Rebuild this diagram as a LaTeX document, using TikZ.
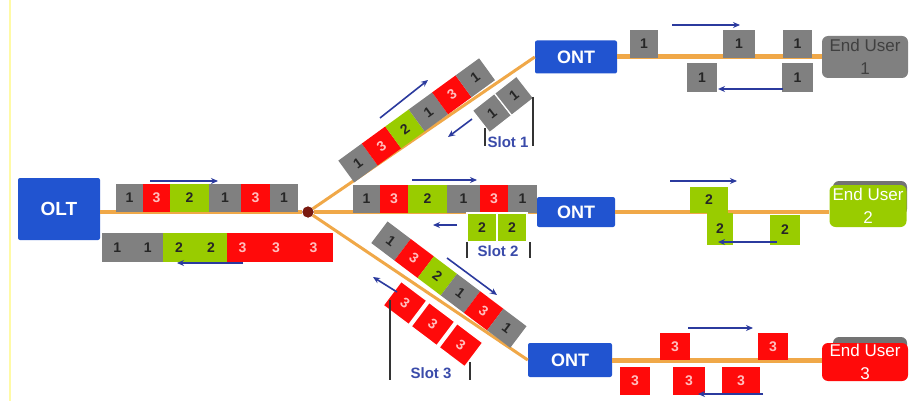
\documentclass[tikz,border=0pt]{standalone}
\usepackage{fontspec}
\setmainfont{Liberation Sans}
\usetikzlibrary{arrows.meta}
\definecolor{cgray}{HTML}{808080}
\definecolor{cred}{HTML}{FF0A0A}
\definecolor{cgreen}{HTML}{99CC00}
\definecolor{cblue}{HTML}{2154D0}
\definecolor{fiber}{HTML}{F0A848}
\definecolor{arrowblue}{HTML}{2B3A9E}
\definecolor{slotblue}{HTML}{3A4BAA}
\definecolor{splitc}{HTML}{7A1A10}
\begin{document}
\begin{tikzpicture}[x=1pt,y=-1pt,
 cellbase/.style={inner sep=0pt, minimum height=28, font=\fontsize{14}{16}\selectfont\bfseries},
 cg/.style={cellbase, fill=cgray, text=black!85},
 cr/.style={cellbase, fill=cred, text=red!25!white},
 cgr/.style={cellbase, fill=cgreen, text=black!85},
 slotcell/.style={draw=white, line width=1.2},
 box/.style={fill=cblue, text=white, font=\fontsize{18}{20}\selectfont\bfseries, rounded corners=2pt, inner sep=0},
 user/.style={rounded corners=6pt, inner sep=0, align=center, font=\fontsize{17}{23}\selectfont},
 shadowbox/.style={fill=black!55, rounded corners=6pt},
 fib/.style={draw=fiber, line width=4},
 dirarrow/.style={draw=arrowblue, line width=1.6, -{Stealth[length=7,width=6]}},
 slotlbl/.style={text=slotblue, font=\fontsize{15}{16}\selectfont\bfseries, inner sep=0},
 bracket/.style={draw=black!80, line width=1.2}
]
\useasboundingbox (0,0) rectangle (910,401);
\fill[white] (0,0) rectangle (910,401);
\draw[yellow!35, line width=1.5] (10,0) -- (10,401);

% main boxes
\node[box, minimum width=82, minimum height=62, font=\fontsize{19}{20}\selectfont\bfseries] (olt) at (59,209) {OLT};
\node[box, minimum width=82, minimum height=33] (ont1) at (576,57) {ONT};
\node[box, minimum width=78, minimum height=30] (ont2) at (576,212) {ONT};
\node[box, minimum width=84, minimum height=34] (ont3) at (570,360) {ONT};

% end users
\fill[shadowbox] (833,181) rectangle (907,215);
\fill[shadowbox] (833,337) rectangle (907,370);
\node[user, fill=cgray, text=black!75, minimum width=86, minimum height=42] (eu1) at (865,57) {End User\\1};
\node[user, fill=cgreen, text=white, minimum width=77, minimum height=42] (eu2) at (868,206) {End User\\2};
\node[user, fill=cred, text=white, minimum width=86, minimum height=38] (eu3) at (865,362) {End User\\3};

% splitter
\node[circle, fill=splitc, minimum size=11, inner sep=0] (split) at (308,212) {};

% fibers
\draw[fib] (olt.east |- split) -- (split);
\draw[fib, line width=3] (split) -- (ont1.west);
\draw[fib] (split) -- (split -| ont2.west);
\draw[fib, line width=3] (split) -- (ont3.west);
\draw[fib, line width=5] (ont1.east) -- (ont1.east -| eu1.west);
\draw[fib, line width=4] (ont2.east) -- (ont2.east -| eu2.west);
\draw[fib, line width=5] (ont3.east) -- (ont3.east -| eu3.west);
\node[circle, fill=splitc, minimum size=11, inner sep=0] at (split) {};

% OLT downstream row
\node[cg, minimum width=27] (a1) at (129.5,198) {1};
\node[cr, minimum width=27] (a2) at (156.5,198) {3};
\node[cgr, minimum width=39] (a3) at (189.5,198) {2};
\node[cg, minimum width=32] (a4) at (225,198) {1};
\node[cr, minimum width=29] (a5) at (255.5,198) {3};
\node[cg, minimum width=28] (a6) at (284,198) {1};
\draw[dirarrow] (150,181) -- (218,181);

% OLT upstream row
\node[cg, minimum width=30.5, minimum height=29] (b1) at (117.25,247.5) {1};
\node[cg, minimum width=30.5, minimum height=29] (b2) at (147.75,247.5) {1};
\node[cgr, minimum width=32, minimum height=29] (b3) at (179,247.5) {2};
\node[cgr, minimum width=32, minimum height=29] (b4) at (211,247.5) {2};
\node[cr, minimum width=31, minimum height=29] (b5) at (242.5,247.5) {3};
\node[cr, minimum width=36, minimum height=29] (b6) at (276,247.5) {3};
\node[cr, minimum width=39, minimum height=29] (b7) at (313.5,247.5) {3};
\draw[dirarrow] (243,263) -- (177,263);

% middle downstream row
\node[cg, minimum width=27] (m1) at (366.5,199) {1};
\node[cr, minimum width=28] (m2) at (394,199) {3};
\node[cgr, minimum width=39] (m3) at (427.5,199) {2};
\node[cg, minimum width=33] (m4) at (463.5,199) {1};
\node[cr, minimum width=28] (m5) at (494,199) {3};
\node[cg, minimum width=29] (m6) at (522.5,199) {1};
\draw[dirarrow] (412,180) -- (477,180);

% middle upstream slot 2
\node[cgr, slotcell, minimum width=30, minimum height=29] (s21) at (482,227.5) {2};
\node[cgr, slotcell, minimum width=30, minimum height=29] (s22) at (512,227.5) {2};
\draw[dirarrow] (457,225) -- (433,225);
\draw[bracket] (467,242) -- (467,258);
\draw[bracket] (530,242) -- (530,258);
\node[slotlbl] (sl2) at (498,251) {Slot 2};

% upper diagonal downstream
\begin{scope}[shift={(358,163)}, rotate=36, transform shape]
\node[cg, minimum width=29, minimum height=27] (u1) at (0,0) {1};
\node[cr, minimum width=29, minimum height=27] (u2) at (29,0) {3};
\node[cgr, minimum width=29, minimum height=27] (u3) at (58,0) {2};
\node[cg, minimum width=29, minimum height=27] (u4) at (87,0) {1};
\node[cr, minimum width=29, minimum height=27] (u5) at (116,0) {3};
\node[cg, minimum width=29, minimum height=27] (u6) at (145,0) {1};
\end{scope}
\draw[dirarrow] (380,118) -- (428,80);

% slot 1
\begin{scope}[shift={(492,113)}, rotate=38, transform shape]
\node[cg, slotcell, minimum width=28, minimum height=28] (s11) at (0,0) {1};
\node[cg, slotcell, minimum width=28, minimum height=28] (s12) at (28,0) {1};
\end{scope}
\draw[dirarrow] (472,119) -- (448,137);
\draw[bracket] (485,128) -- (485,146);
\draw[bracket] (533,97) -- (533,146);
\node[slotlbl] (sl1) at (508,142) {Slot 1};

% lower diagonal downstream
\begin{scope}[shift={(391,241)}, rotate=-37, transform shape]
\node[cg, minimum width=29, minimum height=27] (l1) at (0,0) {1};
\node[cr, minimum width=29, minimum height=27] (l2) at (29,0) {3};
\node[cgr, minimum width=29, minimum height=27] (l3) at (58,0) {2};
\node[cg, minimum width=29, minimum height=27] (l4) at (87,0) {1};
\node[cr, minimum width=29, minimum height=27] (l5) at (116,0) {3};
\node[cg, minimum width=29, minimum height=27] (l6) at (145,0) {1};
\end{scope}
\draw[dirarrow] (447,258) -- (497,295);

% slot 3
\begin{scope}[shift={(405,303)}, rotate=-37, transform shape]
\node[cr, slotcell, minimum width=32, minimum height=30] (s31) at (0,0) {3};
\node[cr, slotcell, minimum width=32, minimum height=30] (s32) at (35,0) {3};
\node[cr, slotcell, minimum width=32, minimum height=30] (s33) at (70,0) {3};
\end{scope}
\draw[dirarrow] (397,292) -- (373,277);
\draw[bracket] (390,300) -- (390,380);
\draw[bracket] (470,362) -- (470,380);
\node[slotlbl] (sl3) at (431,373) {Slot 3};

% right upper
\node[cg, minimum width=28] (r11) at (644,44) {1};
\node[cg, minimum width=32] (r12) at (739,44) {1};
\node[cg, minimum width=29] (r13) at (797.5,44) {1};
\node[cg, minimum width=30, minimum height=29] (r14) at (702,77.5) {1};
\node[cg, minimum width=31, minimum height=29] (r15) at (797.5,77.5) {1};
\draw[dirarrow] (672,25) -- (740,25);
\draw[dirarrow] (783,89) -- (718,89);

% right middle
\node[cgr, minimum width=38, minimum height=26] (r21) at (709,200) {2};
\node[cgr, minimum width=26, minimum height=32] (r22) at (720,229) {2};
\node[cgr, minimum width=30, minimum height=30] (r23) at (785,230) {2};
\draw[dirarrow] (670,181) -- (737,181);
\draw[dirarrow] (777,242) -- (718,242);

% right lower
\node[cr, minimum width=30, minimum height=27] (r31) at (675,346.5) {3};
\node[cr, minimum width=30, minimum height=27] (r32) at (773,346.5) {3};
\node[cr, minimum width=30, minimum height=28] (r33) at (635,381) {3};
\node[cr, minimum width=32, minimum height=28] (r34) at (689,381) {3};
\node[cr, minimum width=38, minimum height=28] (r35) at (741,381) {3};
\draw[dirarrow] (688,328) -- (753,328);
\draw[dirarrow] (763,394) -- (698,394);
\end{tikzpicture}
\end{document}
